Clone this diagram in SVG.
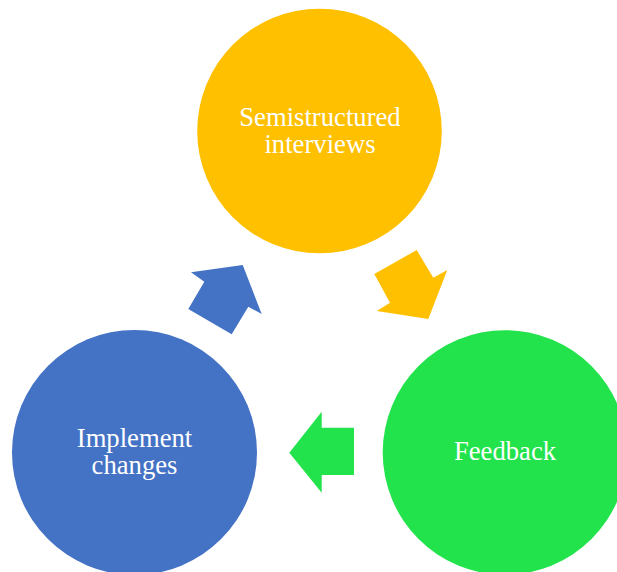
<svg xmlns="http://www.w3.org/2000/svg" width="617" height="572" viewBox="0 0 617 572">
  <style>
    .lbl { font-family: "Liberation Serif", "Times New Roman", serif; font-size: 26.67px; fill: #FFFFFF; text-anchor: middle; }
    .orange { fill: #FFC000; }
    .blue { fill: #4472C4; }
    .green { fill: #22E34C; }
  </style>
  <rect width="617" height="572" fill="#FFFFFF"/>
  <g id="connectors">
    <polygon class="orange" points="416.7,250 374.3,274 390,302.7 376.7,311 428.3,319 447.3,270 433.3,277.7"/>
    <polygon class="green" points="289.3,452.7 321.7,411.7 321.7,427.7 354,427.7 354,475 321.7,475 321.7,492.7"/>
    <polygon class="blue" points="242.7,265 191,272.3 204.3,281.7 188.3,309 231.7,334.3 248.3,306.7 261.7,314"/>
  </g>
  <g id="node-semistructured">
    <circle class="orange" cx="319.5" cy="131" r="122.3"/>
    <text class="lbl" x="320" y="125.5">Semistructured</text>
    <text class="lbl" x="320" y="153">interviews</text>
  </g>
  <g id="node-feedback">
    <circle class="green" cx="505" cy="452.5" r="122.3"/>
    <text class="lbl" x="505" y="460">Feedback</text>
  </g>
  <g id="node-implement">
    <circle class="blue" cx="134.5" cy="452.5" r="122.5"/>
    <text class="lbl" x="134.5" y="447">Implement</text>
    <text class="lbl" x="134.5" y="474">changes</text>
  </g>
</svg>
